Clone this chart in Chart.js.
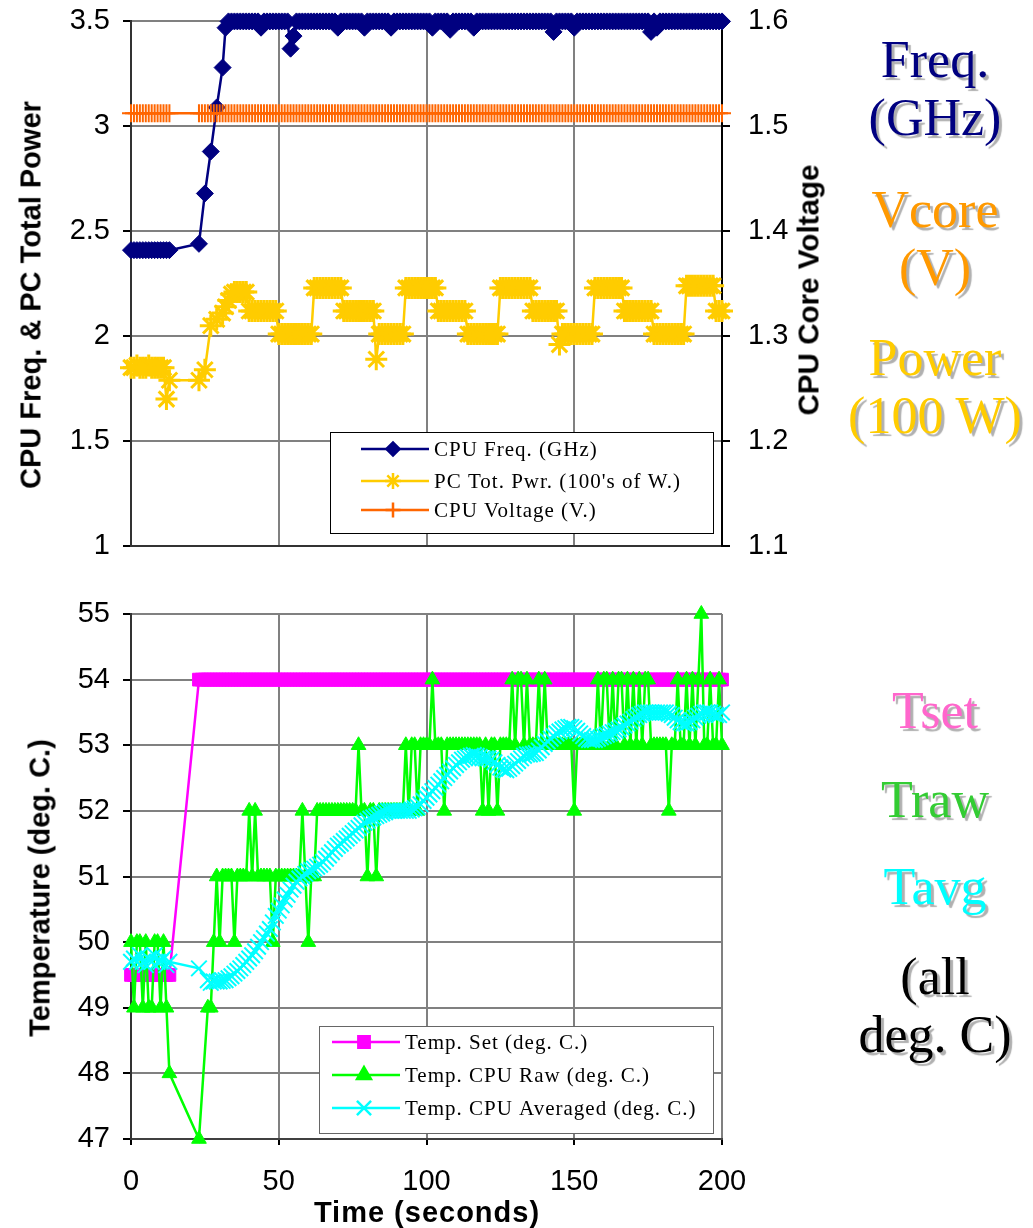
<!DOCTYPE html>
<html>
<head>
<meta charset="utf-8">
<script src="https://cdn.jsdelivr.net/npm/chart.js@4.4.0/dist/chart.umd.min.js"></script>
<style>
html, body { margin: 0; padding: 0; background: #fff; }
#wrap { position: relative; width: 1033px; height: 1228px; overflow: hidden; }
canvas { position: absolute; left: 0; }
#topChart { top: -14px; }
#botChart { top: 575px; }
.atitle { position: absolute; font: bold 29px "Liberation Sans", Arial, sans-serif; white-space: nowrap; color: #000; }
.side { position: absolute; left: 825px; width: 220px; text-align: center; font: 52px "Liberation Serif", "Times New Roman", serif; line-height: 58px; text-shadow: 3px 3px 1px #b0b0b0; white-space: nowrap; }
</style>
</head>
<body>
<div id="wrap">
  <canvas id="topChart" width="1033" height="600"></canvas>
  <canvas id="botChart" width="1033" height="653"></canvas>

  <div class="atitle" style="left:31px;top:295px;transform:translate(-50%,-50%) rotate(-90deg);">CPU Freq. &amp; PC Total Power</div>
  <div class="atitle" style="left:809px;top:290px;transform:translate(-50%,-50%) rotate(-90deg) scaleX(1.02);">CPU Core Voltage</div>
  <div class="atitle" style="left:40px;top:888px;transform:translate(-50%,-50%) rotate(-90deg);">Temperature (deg. C.)</div>
  <div class="atitle" style="left:427px;top:1212px;transform:translate(-50%,-50%);letter-spacing:1px;">Time (seconds)</div>

  <div class="side" style="top:31px;color:#000080;">Freq.<br>(GHz)</div>
  <div class="side" style="top:181px;color:#FF9900;">Vcore<br>(V)</div>
  <div class="side" style="top:329px;color:#FFCC00;">Power<br>(100 W)</div>
  <div class="side" style="top:682px;color:#FF66CC;">Tset</div>
  <div class="side" style="top:771px;color:#33CC33;">Traw</div>
  <div class="side" style="top:858px;color:#00FFFF;">Tavg</div>
  <div class="side" style="top:948px;color:#000;">(all<br>deg. C)</div>
</div>

<script>
// sample times (seconds)
const times = [
  0, 1, 2, 3, 4, 5, 6, 7, 8, 9, 10, 11, 12, 13,
  23, 24, 25, 26, 27, 28, 29, 30, 31, 32,
  33, 34, 35, 36, 37, 38, 39, 40, 41, 42,
  43, 44, 45, 46, 47, 48, 49, 50, 51, 52,
  53, 54, 55, 56, 57, 58, 59, 60, 61, 62,
  63, 64, 65, 66, 67, 68, 69, 70, 71, 72,
  73, 74, 75, 76, 77, 78, 79, 80, 81, 82,
  83, 84, 85, 86, 87, 88, 89, 90, 91, 92,
  93, 94, 95, 96, 97, 98, 99, 100, 101, 102,
  103, 104, 105, 106, 107, 108, 109, 110, 111, 112,
  113, 114, 115, 116, 117, 118, 119, 120, 121, 122,
  123, 124, 125, 126, 127, 128, 129, 130, 131, 132,
  133, 134, 135, 136, 137, 138, 139, 140, 141, 142,
  143, 144, 145, 146, 147, 148, 149, 150, 151, 152,
  153, 154, 155, 156, 157, 158, 159, 160, 161, 162,
  163, 164, 165, 166, 167, 168, 169, 170, 171, 172,
  173, 174, 175, 176, 177, 178, 179, 180, 181, 182,
  183, 184, 185, 186, 187, 188, 189, 190, 191, 192,
  193, 194, 195, 196, 197, 198, 199, 200, 201, 202,
  203
];

// CPU frequency (GHz)
const cpuFreq = [
  2.41, 2.41, 2.41, 2.41, 2.41, 2.41, 2.41, 2.41, 2.41, 2.41, 2.41, 2.41, 2.41, 2.41,
  2.44, null, 2.68, null, 2.88, null, 3.09, null, 3.28, 3.47,
  3.5, 3.5, 3.5, 3.5, 3.5, 3.5, 3.5, 3.5, 3.5, 3.5,
  3.5, 3.47, 3.5, 3.5, 3.5, 3.5, 3.5, 3.5, 3.5, 3.5,
  3.5, 3.37, 3.43, 3.5, 3.5, 3.5, 3.5, 3.5, 3.5, 3.5,
  3.5, 3.5, 3.5, 3.5, 3.5, 3.5, 3.5, 3.47, 3.5, 3.5,
  3.5, 3.5, 3.5, 3.5, 3.5, 3.5, 3.47, 3.5, 3.5, 3.5,
  3.5, 3.5, 3.5, 3.5, 3.5, 3.47, 3.5, 3.5, 3.5, 3.5,
  3.5, 3.5, 3.5, 3.5, 3.5, 3.5, 3.5, 3.5, 3.5, 3.47,
  3.5, 3.5, 3.5, 3.5, 3.5, 3.46, 3.5, 3.5, 3.5, 3.5,
  3.5, 3.5, 3.5, 3.47, 3.5, 3.5, 3.5, 3.5, 3.5, 3.5,
  3.5, 3.5, 3.5, 3.5, 3.5, 3.5, 3.5, 3.5, 3.5, 3.5,
  3.5, 3.5, 3.5, 3.5, 3.5, 3.5, 3.5, 3.5, 3.5, 3.5,
  3.45, 3.5, 3.5, 3.5, 3.5, 3.5, 3.5, 3.47, 3.5, 3.5,
  3.5, 3.5, 3.5, 3.5, 3.5, 3.5, 3.5, 3.5, 3.5, 3.5,
  3.5, 3.5, 3.5, 3.5, 3.5, 3.5, 3.5, 3.5, 3.5, 3.5,
  3.5, 3.5, 3.5, 3.45, 3.5, 3.47, 3.5, 3.5, 3.5, 3.5,
  3.5, 3.5, 3.5, 3.5, 3.5, 3.5, 3.5, 3.5, 3.5, 3.5,
  3.5, 3.5, 3.5, 3.5, 3.5, 3.5, 3.5, 3.5, 3.5, 3.5,
  3.5
];

// PC total power (100's of W)
const pcPower = [
  1.85, 1.85, 1.86, 1.85, 1.85, 1.85, 1.86, 1.85, 1.85, 1.85, 1.85, 1.85, 1.70, 1.79,
  1.79, null, 1.84, null, 2.05, null, 2.08, null, 2.11, 2.14,
  2.17, 2.20, 2.21, 2.21, 2.21, 2.21, 2.21, 2.12, 2.12, 2.12,
  2.12, 2.12, 2.12, 2.12, 2.12, 2.12, 2.12, 2.01, 2.01, 2.01,
  2.01, 2.01, 2.01, 2.01, 2.01, 2.01, 2.01, 2.01, 2.01, 2.23,
  2.23, 2.23, 2.23, 2.23, 2.23, 2.23, 2.23, 2.23, 2.23, 2.12,
  2.12, 2.12, 2.12, 2.12, 2.12, 2.12, 2.12, 2.12, 2.12, 2.12,
  1.89, 2.01, 2.01, 2.01, 2.01, 2.01, 2.01, 2.01, 2.01, 2.01,
  2.23, 2.23, 2.23, 2.23, 2.23, 2.23, 2.23, 2.23, 2.23, 2.23,
  2.23, 2.12, 2.12, 2.12, 2.12, 2.12, 2.12, 2.12, 2.12, 2.12,
  2.12, 2.01, 2.01, 2.01, 2.01, 2.01, 2.01, 2.01, 2.01, 2.01,
  2.01, 2.01, 2.23, 2.23, 2.23, 2.23, 2.23, 2.23, 2.23, 2.23,
  2.23, 2.23, 2.23, 2.12, 2.12, 2.12, 2.12, 2.12, 2.12, 2.12,
  2.12, 2.12, 1.96, 2.01, 2.01, 2.01, 2.01, 2.01, 2.01, 2.01,
  2.01, 2.01, 2.01, 2.01, 2.23, 2.23, 2.23, 2.23, 2.23, 2.23,
  2.23, 2.23, 2.23, 2.23, 2.12, 2.12, 2.12, 2.12, 2.12, 2.12,
  2.12, 2.12, 2.12, 2.12, 2.01, 2.01, 2.01, 2.01, 2.01, 2.01,
  2.01, 2.01, 2.01, 2.01, 2.01, 2.24, 2.24, 2.24, 2.24, 2.24,
  2.24, 2.24, 2.24, 2.24, 2.24, 2.12, 2.12, 2.12, 2.12, 2.12,
  2.12
];

// CPU core voltage (V)
const cpuVolt = [
  1.5125, 1.5125, 1.5125, 1.5125, 1.5125, 1.5125, 1.5125, 1.5125, 1.5125, 1.5125, 1.5125, 1.5125, 1.5125, 1.5125,
  1.5125, 1.5125, 1.5125, 1.5125, 1.5125, 1.5125, 1.5125, 1.5125, 1.5125, 1.5125,
  1.5125, 1.5125, 1.5125, 1.5125, 1.5125, 1.5125, 1.5125, 1.5125, 1.5125, 1.5125,
  1.5125, 1.5125, 1.5125, 1.5125, 1.5125, 1.5125, 1.5125, 1.5125, 1.5125, 1.5125,
  1.5125, 1.5125, 1.5125, 1.5125, 1.5125, 1.5125, 1.5125, 1.5125, 1.5125, 1.5125,
  1.5125, 1.5125, 1.5125, 1.5125, 1.5125, 1.5125, 1.5125, 1.5125, 1.5125, 1.5125,
  1.5125, 1.5125, 1.5125, 1.5125, 1.5125, 1.5125, 1.5125, 1.5125, 1.5125, 1.5125,
  1.5125, 1.5125, 1.5125, 1.5125, 1.5125, 1.5125, 1.5125, 1.5125, 1.5125, 1.5125,
  1.5125, 1.5125, 1.5125, 1.5125, 1.5125, 1.5125, 1.5125, 1.5125, 1.5125, 1.5125,
  1.5125, 1.5125, 1.5125, 1.5125, 1.5125, 1.5125, 1.5125, 1.5125, 1.5125, 1.5125,
  1.5125, 1.5125, 1.5125, 1.5125, 1.5125, 1.5125, 1.5125, 1.5125, 1.5125, 1.5125,
  1.5125, 1.5125, 1.5125, 1.5125, 1.5125, 1.5125, 1.5125, 1.5125, 1.5125, 1.5125,
  1.5125, 1.5125, 1.5125, 1.5125, 1.5125, 1.5125, 1.5125, 1.5125, 1.5125, 1.5125,
  1.5125, 1.5125, 1.5125, 1.5125, 1.5125, 1.5125, 1.5125, 1.5125, 1.5125, 1.5125,
  1.5125, 1.5125, 1.5125, 1.5125, 1.5125, 1.5125, 1.5125, 1.5125, 1.5125, 1.5125,
  1.5125, 1.5125, 1.5125, 1.5125, 1.5125, 1.5125, 1.5125, 1.5125, 1.5125, 1.5125,
  1.5125, 1.5125, 1.5125, 1.5125, 1.5125, 1.5125, 1.5125, 1.5125, 1.5125, 1.5125,
  1.5125, 1.5125, 1.5125, 1.5125, 1.5125, 1.5125, 1.5125, 1.5125, 1.5125, 1.5125,
  1.5125, 1.5125, 1.5125, 1.5125, 1.5125, 1.5125, 1.5125, 1.5125, 1.5125, 1.5125,
  1.5125
];

// temperature set point (deg C)
const tempSet = [
  49.5, 49.5, 49.5, 49.5, 49.5, 49.5, 49.5, 49.5, 49.5, 49.5, 49.5, 49.5, 49.5, 49.5,
  54, 54, 54, 54, 54, 54, 54, 54, 54, 54,
  54, 54, 54, 54, 54, 54, 54, 54, 54, 54,
  54, 54, 54, 54, 54, 54, 54, 54, 54, 54,
  54, 54, 54, 54, 54, 54, 54, 54, 54, 54,
  54, 54, 54, 54, 54, 54, 54, 54, 54, 54,
  54, 54, 54, 54, 54, 54, 54, 54, 54, 54,
  54, 54, 54, 54, 54, 54, 54, 54, 54, 54,
  54, 54, 54, 54, 54, 54, 54, 54, 54, 54,
  54, 54, 54, 54, 54, 54, 54, 54, 54, 54,
  54, 54, 54, 54, 54, 54, 54, 54, 54, 54,
  54, 54, 54, 54, 54, 54, 54, 54, 54, 54,
  54, 54, 54, 54, 54, 54, 54, 54, 54, 54,
  54, 54, 54, 54, 54, 54, 54, 54, 54, 54,
  54, 54, 54, 54, 54, 54, 54, 54, 54, 54,
  54, 54, 54, 54, 54, 54, 54, 54, 54, 54,
  54, 54, 54, 54, 54, 54, 54, 54, 54, 54,
  54, 54, 54, 54, 54, 54, 54, 54, 54, 54,
  54, 54, 54, 54, 54, 54, 54, 54, 54, 54,
  54
];

// raw CPU temperature (deg C)
const tempRaw = [
  50, 49, 50, 50, 49, 50, 49, 49, 50, 50, 49, 50, 49, 48,
  47, null, null, 49, 49, 50, 51, 50, 51, 51,
  51, 51, 50, 51, 51, 51, 51, 52, 51, 52,
  51, 51, 51, 51, 51, 50, 51, 51, 51, 51,
  51, 51, 51, 51, 51, 52, 51, 50, 51, 51,
  52, 52, 52, 52, 52, 52, 52, 52, 52, 52,
  52, 52, 52, 52, 53, 52, 52, 51, 52, 52,
  51, 52, 52, 52, 52, 52, 52, 52, 52, 52,
  53, 52, 53, 53, 52, 53, 53, 53, 53, 54,
  53, 53, 53, 52, 53, 53, 53, 53, 53, 53,
  53, 53, 53, 53, 53, 53, 52, 53, 52, 53,
  53, 52, 53, 53, 53, 53, 54, 53, 54, 54,
  53, 54, 53, 53, 53, 54, 53, 54, 53, 53,
  53, 53, 53, 53, 53, 53, 53, 52, 53, 53,
  53, 53, 53, 53, 53, 54, 53, 54, 54, 53,
  54, 53, 54, 54, 53, 54, 53, 54, 53, 54,
  53, 54, 54, 53, 53, 53, 53, 53, 53, 52,
  53, 53, 54, 53, 53, 54, 53, 54, 53, 54,
  55, 53, 53, 54, 53, 53, 54, 53, 54, 54,
  53
];

// averaged CPU temperature (deg C)
const tempAvg = [
  49.7, 49.75, 49.7, 49.8, 49.7, 49.65, 49.75, 49.7, 49.8, 49.7, 49.7, 49.75, 49.65, 49.7,
  49.6, null, null, 49.42, 49.38, 49.4, 49.4, 49.4, 49.41, 49.42,
  49.45, 49.48, 49.52, 49.56, 49.6, 49.65, 49.7, 49.75, 49.8, 49.86,
  49.93, 50.0, 50.06, 50.13, 50.2, 50.3, 50.4, 50.48, 50.56, 50.65,
  50.72, 50.8, 50.86, 50.92, 50.97, 51.0, 51.04, 51.08, 51.1, 51.12,
  51.15, 51.18, 51.22, 51.27, 51.32, 51.37, 51.42, 51.47, 51.5, 51.54,
  51.58, 51.62, 51.66, 51.7, 51.74, 51.78, 51.82, 51.85, 51.88, 51.9,
  51.92, 51.94, 51.96, 51.98, 52.0, 52.0, 52.0, 52.0, 52.0, 52.0,
  52.0, 52.0, 52.02, 52.04, 52.06, 52.1, 52.15, 52.2, 52.25, 52.3,
  52.35, 52.4, 52.45, 52.5, 52.55, 52.6, 52.65, 52.7, 52.74, 52.78,
  52.8, 52.82, 52.84, 52.85, 52.84, 52.82, 52.8, 52.8, 52.8, 52.78,
  52.74, 52.7, 52.66, 52.63, 52.62, 52.64, 52.68, 52.72, 52.76, 52.8,
  52.84, 52.86, 52.86, 52.87, 52.88, 52.92, 52.97, 53.02, 53.06, 53.1,
  53.14, 53.18, 53.21, 53.24, 53.26, 53.28, 53.28, 53.26, 53.22, 53.18,
  53.14, 53.1, 53.08, 53.08, 53.08, 53.1, 53.12, 53.14, 53.16, 53.18,
  53.2, 53.22, 53.24, 53.27, 53.3, 53.33, 53.36, 53.4, 53.43, 53.46,
  53.48, 53.5, 53.5, 53.5, 53.5, 53.5, 53.5, 53.5, 53.5, 53.48,
  53.46, 53.42, 53.38, 53.35, 53.33, 53.33, 53.35, 53.38, 53.42, 53.45,
  53.48, 53.5, 53.5, 53.5, 53.48, 53.46, 53.46, 53.5, 53.53, 53.57,
  53.6
];

const timeTicks = [0, 50, 100, 150, 200];

const pts = vals => times.map((t, i) => ({ x: t, y: vals[i] }));

const tickFont = { family: '"Liberation Sans", Arial, sans-serif', size: 29 };
const gridGray = '#808080';
// plain number labels: 3, 2.5, 2 ... (no forced decimals)
const plainNum = v => String(Math.round(v * 100) / 100);

// legend box drawn inside the plot, like the spreadsheet legend
const boxLegend = {
  id: 'boxLegend',
  afterDraw(chart) {
    const o = chart.options.plugins.boxLegend;
    if (!o) return;
    const ctx = chart.ctx;
    ctx.save();
    ctx.fillStyle = '#fff';
    ctx.fillRect(o.x, o.y, o.w, o.h);
    ctx.strokeStyle = o.border;
    ctx.lineWidth = 1;
    ctx.strokeRect(o.x + 0.5, o.y + 0.5, o.w, o.h);
    ctx.font = '21px "Liberation Serif", "Times New Roman", serif';
    if ('letterSpacing' in ctx) ctx.letterSpacing = '1px';
    ctx.textBaseline = 'middle';
    chart.data.datasets.forEach((ds, i) => {
      const y = o.y + o.rows[i];
      ctx.strokeStyle = ds.borderColor;
      ctx.fillStyle = ds.borderColor;
      ctx.lineWidth = 2.5;
      ctx.beginPath();
      ctx.moveTo(o.x + o.lx0, y);
      ctx.lineTo(o.x + o.lx1, y);
      ctx.stroke();
      Chart.helpers.drawPoint(ctx, {
        pointStyle: ds.pointStyle,
        radius: o.radius[i],
        borderWidth: ds.pointBorderWidth,
        rotation: 0
      }, o.x + o.mx, y);
      ctx.fillStyle = '#000';
      ctx.fillText(ds.label, o.x + o.tx, y + 1);
    });
    ctx.restore();
  }
};

const baseDs = { showLine: true, spanGaps: true, clip: false, tension: 0 };

// top canvas sits 14px above the page top, so the plot box spans y 21..546 on the page
new Chart(document.getElementById('topChart'), {
  type: 'scatter',
  data: {
    datasets: [
      Object.assign({}, baseDs, {
        label: 'CPU Freq. (GHz)', data: pts(cpuFreq), yAxisID: 'y',
        borderColor: '#000080', backgroundColor: '#000080', borderWidth: 2.5,
        pointStyle: 'rectRot', pointRadius: 8.5, pointBorderWidth: 1, order: 2
      }),
      Object.assign({}, baseDs, {
        label: "PC Tot. Pwr. (100's of W.)", data: pts(pcPower), yAxisID: 'y',
        borderColor: '#FFCC00', backgroundColor: '#FFCC00', borderWidth: 2.5,
        pointStyle: 'star', pointRadius: 11, pointBorderWidth: 3, order: 1
      }),
      Object.assign({}, baseDs, {
        label: 'CPU Voltage (V.)', data: pts(cpuVolt), yAxisID: 'y1',
        borderColor: '#FF6600', backgroundColor: '#FF6600', borderWidth: 2.5,
        pointStyle: 'cross', pointRadius: 9, pointBorderWidth: 2, order: 0
      })
    ]
  },
  options: {
    responsive: false,
    animation: false,
    events: [],
    layout: { padding: { left: 0, right: 0, top: 35, bottom: 30 } },
    scales: {
      x: {
        type: 'linear', min: 0, max: 200,
        afterBuildTicks: s => { s.ticks = timeTicks.map(v => ({ value: v })); },
        afterFit: s => { s.height = 10; },
        ticks: { display: false },
        grid: { color: gridGray, lineWidth: 2, drawTicks: false },
        border: { color: '#333', width: 2 }
      },
      y: {
        position: 'left', min: 1, max: 3.5,
        ticks: { stepSize: 0.5, font: tickFont, color: '#000', padding: 13, callback: plainNum },
        afterFit: s => { s.width = 131; },
        grid: { color: gridGray, lineWidth: 2, tickColor: '#000', tickLength: 8 },
        border: { color: '#333', width: 2 }
      },
      y1: {
        position: 'right', min: 1.1, max: 1.6,
        ticks: { stepSize: 0.1, font: tickFont, color: '#000', padding: 18, callback: plainNum },
        afterFit: s => { s.width = 311; },
        grid: { drawOnChartArea: false, tickColor: '#000', tickLength: 8, lineWidth: 2 },
        border: { color: '#000', width: 2 }
      }
    },
    plugins: {
      legend: { display: false },
      tooltip: { enabled: false },
      boxLegend: {
        x: 330, y: 446, w: 383, h: 101, border: '#000',
        rows: [17, 49, 78], lx0: 31, lx1: 99, mx: 63, tx: 104,
        radius: [6.5, 8, 7.5]
      }
    }
  },
  plugins: [boxLegend]
});

new Chart(document.getElementById('botChart'), {
  type: 'scatter',
  data: {
    datasets: [
      Object.assign({}, baseDs, {
        label: 'Temp. Set (deg. C.)', data: pts(tempSet),
        borderColor: '#FF00FF', backgroundColor: '#FF00FF', borderWidth: 2.5,
        pointStyle: 'rect', pointRadius: 9, pointBorderWidth: 1, order: 2
      }),
      Object.assign({}, baseDs, {
        label: 'Temp. CPU Raw (deg. C.)', data: pts(tempRaw),
        borderColor: '#00FF00', backgroundColor: '#00FF00', borderWidth: 2.5,
        pointStyle: 'triangle', pointRadius: 8.5, pointBorderWidth: 1, order: 1
      }),
      Object.assign({}, baseDs, {
        label: 'Temp. CPU Averaged (deg. C.)', data: pts(tempAvg),
        borderColor: '#00FFFF', backgroundColor: '#00FFFF', borderWidth: 2.5,
        pointStyle: 'crossRot', pointRadius: 11, pointBorderWidth: 2, order: 0
      })
    ]
  },
  options: {
    responsive: false,
    animation: false,
    events: [],
    layout: { padding: { left: 0, right: 311, top: 39, bottom: 0 } },
    scales: {
      x: {
        type: 'linear', min: 0, max: 200,
        afterBuildTicks: s => { s.ticks = timeTicks.map(v => ({ value: v })); },
        afterFit: s => { s.height = 89; },
        ticks: { font: tickFont, color: '#000', padding: 20, maxRotation: 0 },
        grid: { color: gridGray, lineWidth: 2, tickColor: '#000', tickLength: 6 },
        border: { color: '#404040', width: 2 }
      },
      y: {
        position: 'left', min: 47, max: 55,
        ticks: { stepSize: 1, font: tickFont, color: '#000', padding: 13 },
        afterFit: s => { s.width = 131; },
        grid: { color: gridGray, lineWidth: 2, tickColor: '#000', tickLength: 8 },
        border: { color: '#333', width: 2 }
      }
    },
    plugins: {
      legend: { display: false },
      tooltip: { enabled: false },
      boxLegend: {
        x: 319, y: 451, w: 394, h: 107, border: '#666',
        rows: [16, 49, 82], lx0: 13, lx1: 81, mx: 45, tx: 86,
        radius: [8, 8, 10]
      }
    }
  },
  plugins: [boxLegend]
});
</script>
</body>
</html>
